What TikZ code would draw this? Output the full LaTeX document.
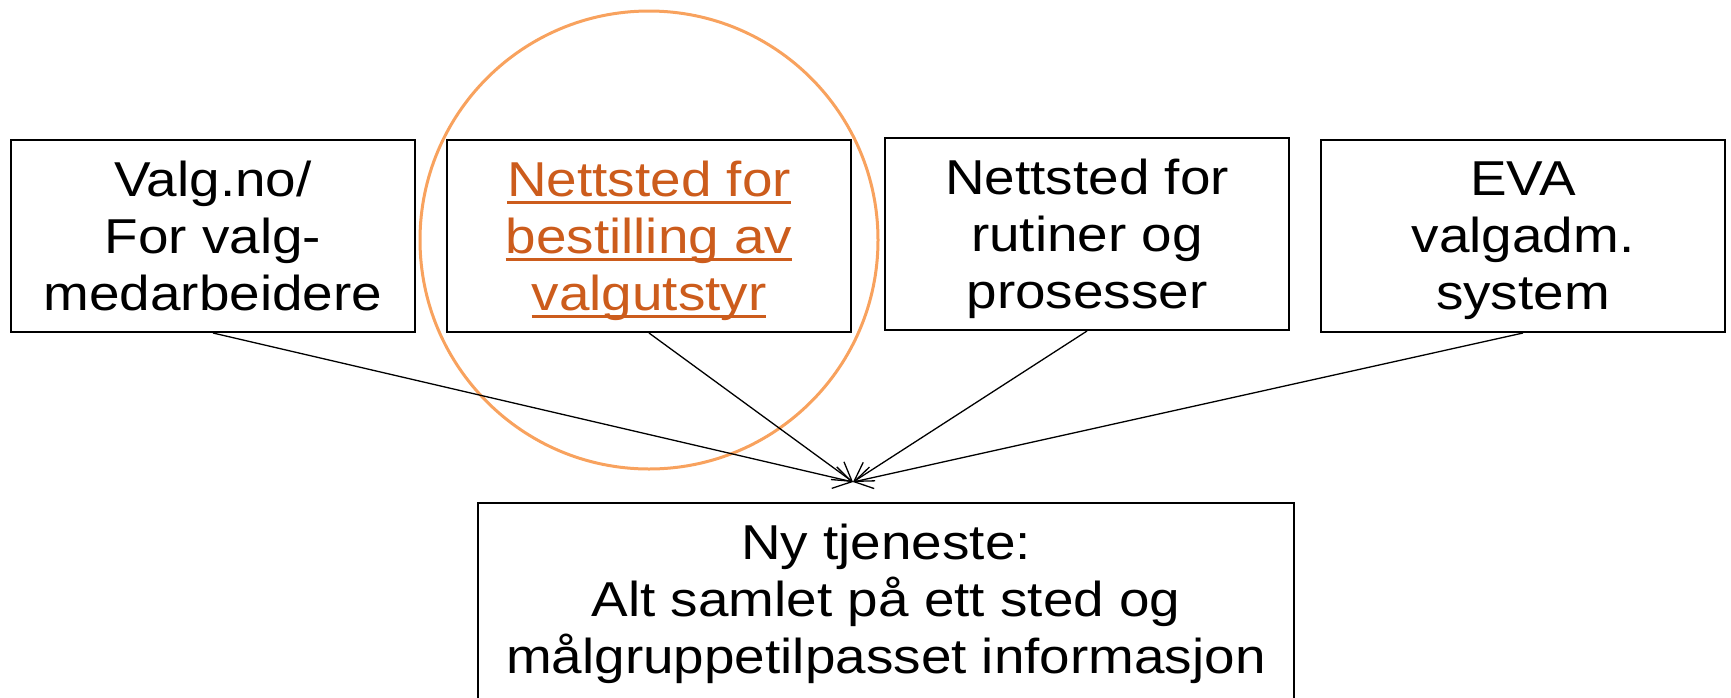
\documentclass[tikz,border=0pt]{standalone}
\usepackage{fontspec}
\setmainfont{Liberation Sans}[FakeStretch=1.12]
\usetikzlibrary{arrows.meta}

\definecolor{linkorange}{RGB}{204,92,28}
\definecolor{ringorange}{RGB}{248,162,94}

% underlined link text
\newcommand{\linkul}[1]{\setbox0\hbox{#1}\rlap{\rule[-7pt]{\wd0}{2.6pt}}\box0}

\tikzset{
  infobox/.style={draw, line width=2pt, minimum width=404pt, minimum height=192pt,
    inner sep=0pt, align=center, text depth=0pt, font=\fontsize{49}{57}\selectfont},
  feed/.style={line width=1.3pt, -{Straight Barb[length=18pt,width=22pt]}}
}

\begin{document}
\begin{tikzpicture}[x=1pt,y=-1pt]
  \useasboundingbox (0,0) rectangle (1731,697);

  \draw[ringorange, line width=3pt] (649,240) circle (229pt);

  \node[infobox] (valgno) at (213,236) {Valg.no/\\For valg-\\medarbeidere};
  \node[infobox, text=linkorange] (bestilling) at (649,236)
    {\linkul{Nettsted for}\\\linkul{bestilling av}\\\linkul{valgutstyr}};
  \node[infobox] (rutiner) at (1087,234) {Nettsted for\\rutiner og\\prosesser};
  \node[infobox] (eva) at (1523,236) {EVA\\valgadm.\\system};

  \node[infobox, minimum width=816pt, minimum height=207pt, text depth=16pt]
    (tjeneste) at (886,606.5)
    {Ny tjeneste:\\Alt samlet på ett sted og\\målgruppetilpasset informasjon};

  \coordinate (hub) at (853,482);

  \draw[feed] (valgno.south) -- (hub);
  \draw[feed] (bestilling.south) -- (hub);
  \draw[feed] (rutiner.south) -- (hub);
  \draw[feed] (eva.south) -- (hub);
\end{tikzpicture}
\end{document}
